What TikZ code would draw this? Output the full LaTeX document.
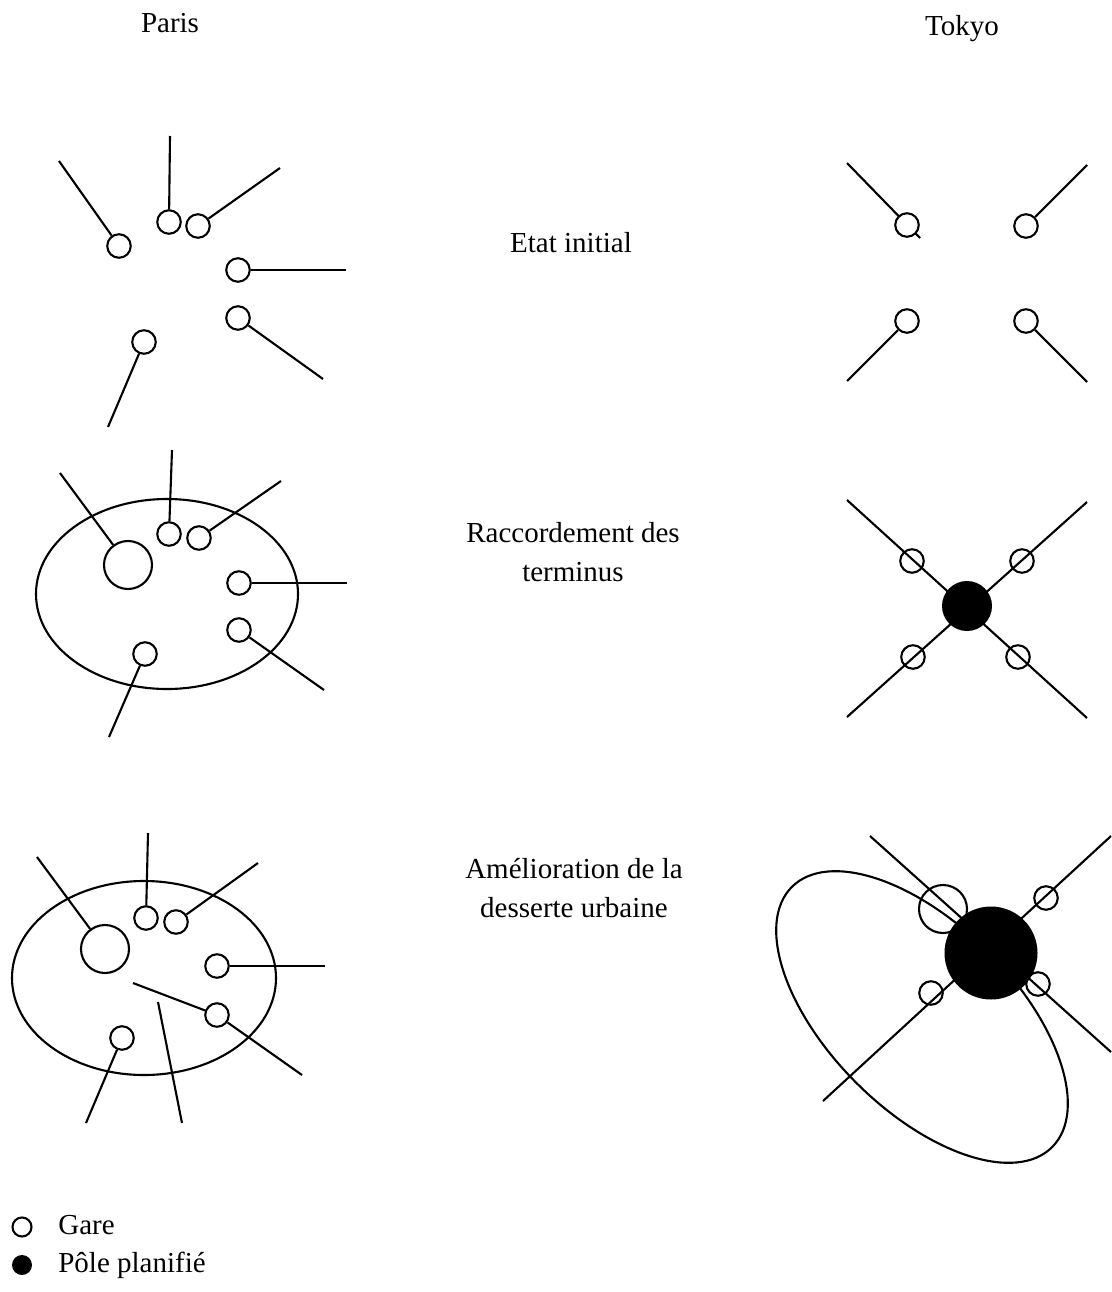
\documentclass[tikz,border=0pt]{standalone}
\usepackage{fontspec}
\setmainfont{Liberation Serif}
\usetikzlibrary{positioning}
\tikzset{
  gare/.style={circle,draw,line width=1.2pt,minimum size=4.7mm,inner sep=0pt},
  grand/.style={gare,minimum size=9.6mm},
  pole/.style={circle,fill=black,inner sep=0pt,minimum size=10mm},
  ligne/.style={line width=1.2pt},
  lab/.style={font=\fontsize{16.5}{22}\selectfont,align=center},
}
\begin{document}
\begin{tikzpicture}[x=0.2mm,y=-0.2mm]
\useasboundingbox (0,0) rectangle (1111,1292);
% titles
\node[lab,anchor=base] (paris) at (170,33) {Paris};
\node[lab,anchor=base] (tokyo) at (962,36) {Tokyo};
\node[lab] (etat) at (571,243) {Etat initial};
\node[lab] (racc) at (573,552) {Raccordement des\\terminus};
\node[lab] (amel) at (574,888) {Amélioration de la\\desserte urbaine};

% Paris, etat initial
\node[gare] (p1a) at (119,246) {};
\node[gare] (p1b) at (169,222) {};
\node[gare] (p1c) at (198,226) {};
\node[gare] (p1d) at (238,270) {};
\node[gare] (p1e) at (238,318) {};
\node[gare] (p1f) at (144,342) {};
\foreach \n/\e in {a/{59,161},b/{170,136},c/{280,168},d/{346,270},e/{323,379},f/{108,427}}
  {\coordinate (p1\n-end) at (\e); \draw[ligne] (p1\n-end) -- (p1\n);}

% Paris, raccordement
\draw[ligne] (167,594) ellipse [x radius=26.2mm,y radius=19mm];
\node[grand] (p2a) at (128,565) {};
\node[gare] (p2b) at (169,534) {};
\node[gare] (p2c) at (199,538) {};
\node[gare] (p2d) at (239,583) {};
\node[gare] (p2e) at (239,630) {};
\node[gare] (p2f) at (145,654) {};
\foreach \n/\e in {a/{60,473},b/{172,450},c/{281,481},d/{347,583},e/{324,690},f/{109,737}}
  {\coordinate (p2\n-end) at (\e); \draw[ligne] (p2\n-end) -- (p2\n);}

% Paris, desserte urbaine
\draw[ligne] (144,978) ellipse [x radius=26.4mm,y radius=19.4mm];
\node[grand] (p3a) at (105,949) {};
\node[gare] (p3b) at (146,918) {};
\node[gare] (p3c) at (176,922) {};
\node[gare] (p3d) at (217,966) {};
\node[gare] (p3e) at (217,1015) {};
\node[gare] (p3f) at (122,1038) {};
\foreach \n/\e in {a/{37,857},b/{148,833},c/{258,863},d/{325,966},e/{302,1075},f/{86,1123}}
  {\coordinate (p3\n-end) at (\e); \draw[ligne] (p3\n-end) -- (p3\n);}
\coordinate (p3g) at (133,983); \draw[ligne] (p3g) -- (p3e);
\coordinate (p3h) at (158,1002); \coordinate (p3i) at (182,1123);
\draw[ligne] (p3h) -- (p3i);

% Tokyo, etat initial
\coordinate (t1a-end) at (847,163); \coordinate (t1a-tail) at (920,238);
\draw[ligne] (t1a-end) -- (t1a-tail);
\node[gare,fill=white] (t1a) at (907,225) {};
\node[gare] (t1b) at (1026,226) {};
\node[gare] (t1c) at (907,321) {};
\node[gare] (t1d) at (1026,321) {};
\foreach \n/\e in {b/{1087,165},c/{847,381},d/{1087,382}}
  {\coordinate (t1\n-end) at (\e); \draw[ligne] (t1\n-end) -- (t1\n);}

% Tokyo, raccordement
\coordinate (t2nw) at (847,500); \coordinate (t2se) at (1087,718);
\coordinate (t2ne) at (1087,502); \coordinate (t2sw) at (847,717);
\draw[ligne] (t2nw) -- (t2se); \draw[ligne] (t2ne) -- (t2sw);
\node[pole] (t2pole) at (967,606) {};
\node[gare] (t2a) at (912,561) {};
\node[gare] (t2b) at (1022,561) {};
\node[gare] (t2c) at (913,657) {};
\node[gare] (t2d) at (1018,657) {};

% Tokyo, desserte urbaine
\draw[ligne,rotate around={-45:(922,1017)}] (922,1017) ellipse [x radius=36.8mm,y radius=18.6mm];
\coordinate (t3nw) at (870,836); \coordinate (t3se) at (1111,1052);
\coordinate (t3ne) at (1111,836); \coordinate (t3sw) at (823,1101);
\draw[ligne] (t3nw) -- (t3se); \draw[ligne] (t3ne) -- (t3sw);
\node[pole,minimum size=18.6mm] (t3pole) at (991,953) {};
\node[grand] (t3a) at (943,909) {};
\node[gare] (t3b) at (1046,898) {};
\node[gare] (t3c) at (931,993) {};
\node[gare] (t3d) at (1038,984) {};

% legende
\node[gare,minimum size=3.8mm] (lgare) at (22,1227) {};
\node[pole,minimum size=4mm] (lpole) at (22,1265) {};
\node[lab,anchor=base west,inner sep=0pt] (tgare) at (58,1234) {Gare};
\node[lab,anchor=base west,inner sep=0pt] (tpole) at (58,1272) {Pôle planifié};
\end{tikzpicture}
\end{document}
